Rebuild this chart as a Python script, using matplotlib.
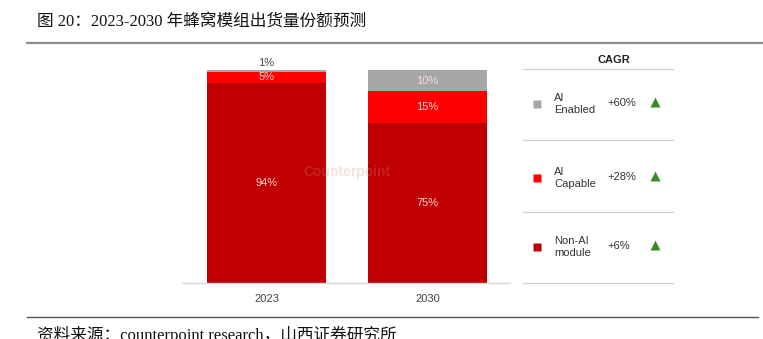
import matplotlib
matplotlib.use("Agg")
import matplotlib.pyplot as plt

# data
years = ["2023", "2030"]
non_ai = [94, 75]
ai_capable = [5, 15]
ai_enabled = [1, 10]
series_names = ["Non-AI\nmodule", "AI\nCapable", "AI\nEnabled"]
cagr = ["+6%", "+28%", "+60%"]
colors = ["#C00000", "#FF0000", "#A6A6A6"]

W, H = 763, 339
fig = plt.figure(figsize=(W / 100, H / 100), dpi=100)


def px(x0, y0, x1, y1):
    # pixel box -> figure fraction rect
    return [x0 / W, 1 - y1 / H, (x1 - x0) / W, (y1 - y0) / H]


# overlay in pixel coords for frame lines and legend table
ov = fig.add_axes([0, 0, 1, 1])
ov.set_xlim(0, W)
ov.set_ylim(H, 0)
ov.axis("off")

cjk = ["Liberation Serif", "Noto Sans CJK SC"]
ov.text(37, 22, "图 20：2023-2030 年蜂窝模组出货量份额预测", family=cjk,
        fontsize=12, va="center", ha="left", color="#111111")
ov.plot([27, 763], [43, 43], color="#8c8c8c", lw=1.6)
ov.plot([27, 758], [317, 317], color="#555555", lw=1.0)
ov.text(37, 335, "资料来源：counterpoint research，山西证券研究所", family=cjk,
        fontsize=12, va="center", ha="left", color="#111111")

# bars
ax = fig.add_axes(px(182, 70, 510, 283))
x = range(len(years))
width = 0.74
ax.bar(x, non_ai, width, color=colors[0])
ax.bar(x, ai_capable, width, bottom=non_ai, color=colors[1])
bottoms = [a + b for a, b in zip(non_ai, ai_capable)]
ax.bar(x, ai_enabled, width, bottom=bottoms, color=colors[2])
ax.set_xlim(-0.525, 1.512)
ax.set_ylim(0, 100)
for s in ["top", "left", "right"]:
    ax.spines[s].set_visible(False)
ax.spines["bottom"].set_color("#d9d9d9")
ax.spines["bottom"].set_linewidth(1.0)
ax.set_yticks([])
ax.set_xticks(list(x))
ax.set_xticklabels(years, family="Liberation Sans", fontsize=8, color="#444444")
ax.tick_params(axis="x", length=0, pad=8)

lab = dict(ha="center", va="center", family="Liberation Sans", fontsize=8)
light = "#f6dada"
for i in x:
    ax.text(i, non_ai[i] / 2, f"{non_ai[i]}%", color=light, **lab)
    ax.text(i, non_ai[i] + ai_capable[i] / 2, f"{ai_capable[i]}%", color=light, **lab)
    if ai_enabled[i] >= 5:
        ax.text(i, bottoms[i] + ai_enabled[i] / 2, f"{ai_enabled[i]}%", color=light, **lab)
    else:
        ax.text(i, 100 + 1.0, f"{ai_enabled[i]}%", color="#444444",
                ha="center", va="bottom", family="Liberation Sans", fontsize=8,
                clip_on=False)

# faint watermark
ax.text(0.5, 52, "Counterpoint", ha="center", va="center", fontsize=10,
        fontweight="bold", color="#d88080", alpha=0.25, family="Liberation Sans")

# CAGR legend table
ov.text(614, 60, "CAGR", ha="center", va="center", fontweight="bold",
        fontsize=8, family="Liberation Sans", color="#222222")
for yy in [69, 140, 212, 283]:
    ov.plot([523, 673], [yy, yy], color="#d0d0d0", lw=0.9)
row_y = [247, 178, 104]
for name, c, g, yy in zip(series_names, colors, cagr, row_y):
    ov.plot(537, yy, marker="s", ms=6, color=c, mec="none")
    ov.text(554, yy, name, ha="left", va="center", fontsize=8,
            family="Liberation Sans", color="#333333", linespacing=1.25)
    ov.text(607, yy - 1, g, ha="left", va="center", fontsize=8,
            family="Liberation Sans", color="#333333")
    ov.plot(655, yy - 2, marker="^", ms=7.5, color="#3a8a26", mec="none")

fig.savefig("out.png", dpi=100)
